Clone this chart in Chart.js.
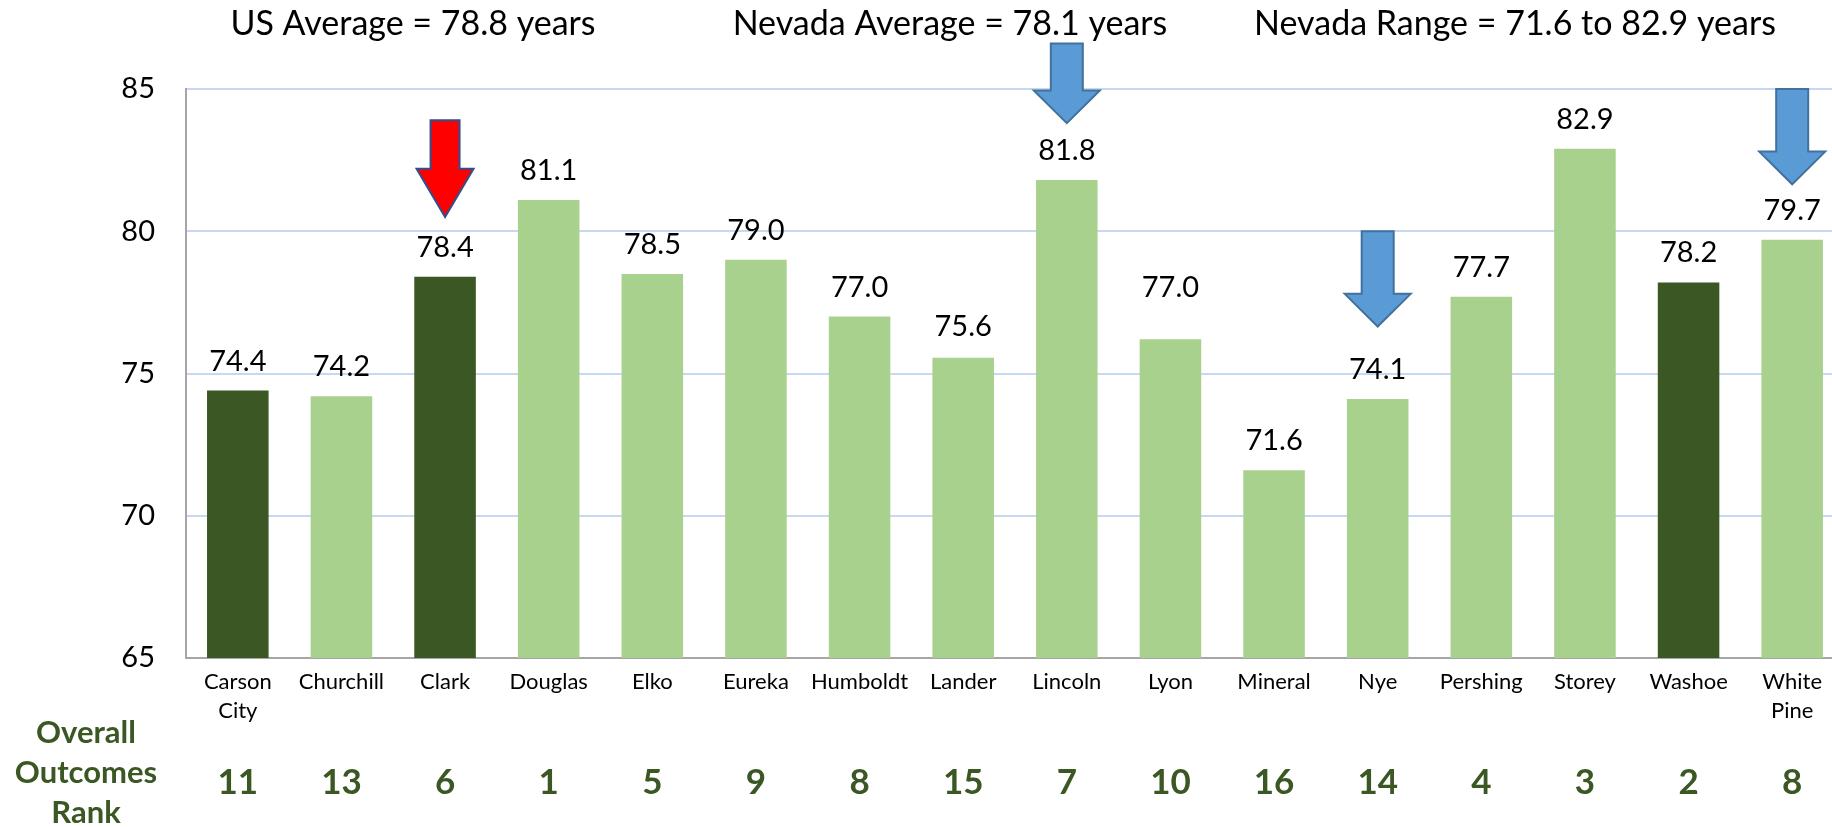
<!DOCTYPE html>
<html>
<head>
<meta charset="utf-8">
<script src="https://cdn.jsdelivr.net/npm/chart.js@4.4.0/dist/chart.umd.min.js"></script>
<style>
  html, body { margin: 0; padding: 0; background: #fff; overflow: hidden; }
  #wrap { width: 1844px; height: 827px; position: relative; }
</style>
</head>
<body>
<div id="wrap"><canvas id="myChart"></canvas></div>
<script>
// county life expectancy, Nevada
const counties = ['Carson City', 'Churchill', 'Clark', 'Douglas', 'Elko', 'Eureka', 'Humboldt', 'Lander',
    'Lincoln', 'Lyon', 'Mineral', 'Nye', 'Pershing', 'Storey', 'Washoe', 'White Pine'];
const lifeExp = [74.4, 74.2, 78.4, 81.1, 78.5, 79.0, 77.0, 75.55, 81.8, 76.2, 71.6, 74.1, 77.7, 82.9, 78.2, 79.7];
// the number printed above each bar (Lyon's label does not match its bar)
const shownLabels = ['74.4', '74.2', '78.4', '81.1', '78.5', '79.0', '77.0', '75.6', '81.8', '77.0', '71.6', '74.1', '77.7', '82.9', '78.2', '79.7'];
const ranks = [11, 13, 6, 1, 5, 9, 8, 15, 7, 10, 16, 14, 4, 3, 2, 8];
const urbanCounties = ['Carson City', 'Clark', 'Washoe'];
const yTicks = [65, 70, 75, 80, 85];
const headlines = ['US Average = 78.8 years', 'Nevada Average = 78.1 years', 'Nevada Range = 71.6 to 82.9 years'];
const rankTitle = ['Overall', 'Outcomes', 'Rank'];
// arrows: county index, shaft top, head start, tip (in years)
const arrows = [
    { i: 2, top: 83.9, neck: 82.2, tip: 80.5, red: true },
    { i: 8, top: 86.6, neck: 84.95, tip: 83.8 },
    { i: 11, top: 80.0, neck: 77.8, tip: 76.65 },
    { i: 15, top: 85.0, neck: 82.8, tip: 81.65 }
];

const FONT = 'Lato, "Open Sans", sans-serif';
const darkGreen = '#3a5724';
const lightGreen = '#a9d18e';

const barLabels = {
    id: 'barLabels',
    afterDatasetsDraw(chart) {
        const ctx = chart.ctx;
        const x = chart.scales.x, y = chart.scales.y;
        ctx.save();
        ctx.font = '29px ' + FONT;
        ctx.fillStyle = '#000';
        ctx.textAlign = 'center';
        ctx.textBaseline = 'alphabetic';
        shownLabels.forEach((t, i) => {
            ctx.fillText(t, x.getPixelForValue(i), y.getPixelForValue(parseFloat(t)) - 20);
        });
        ctx.restore();
    }
};

const extras = {
    id: 'extras',
    afterDraw(chart) {
        const ctx = chart.ctx;
        const x = chart.scales.x, y = chart.scales.y;
        ctx.save();
        // headlines
        ctx.font = '34px ' + FONT;
        ctx.fillStyle = '#000';
        ctx.textAlign = 'center';
        ctx.textBaseline = 'alphabetic';
        const hx = [413, 950, 1515];
        headlines.forEach((t, k) => ctx.fillText(t, hx[k], 35));

        // arrows
        arrows.forEach((a) => {
            const cx = x.getPixelForValue(a.i);
            const sw = a.red ? 29 : 32, hw = a.red ? 57 : 66;
            const yt = y.getPixelForValue(a.top), yn = y.getPixelForValue(a.neck), yp = y.getPixelForValue(a.tip);
            ctx.beginPath();
            ctx.moveTo(cx - sw / 2, yt);
            ctx.lineTo(cx - sw / 2, yn);
            ctx.lineTo(cx - hw / 2, yn);
            ctx.lineTo(cx, yp);
            ctx.lineTo(cx + hw / 2, yn);
            ctx.lineTo(cx + sw / 2, yn);
            ctx.lineTo(cx + sw / 2, yt);
            ctx.closePath();
            ctx.fillStyle = a.red ? '#ff0000' : '#5b9bd5';
            ctx.fill();
            ctx.lineWidth = 2;
            ctx.strokeStyle = a.red ? '#2f4f8f' : '#41719c';
            ctx.stroke();
        });

        // rank row
        ctx.fillStyle = darkGreen;
        ctx.font = 'bold 31px ' + FONT;
        ctx.textBaseline = 'middle';
        rankTitle.forEach((t, k) => ctx.fillText(t, 86, 733 + k * 40));
        ctx.font = 'bold 35px ' + FONT;
        ranks.forEach((r, i) => ctx.fillText(String(r), x.getPixelForValue(i), 783));
        ctx.restore();
    }
};

const ctx = document.getElementById('myChart').getContext('2d');
const myChart = new Chart(ctx, {
    type: 'bar',
    data: {
        labels: counties.map((c) => c.split(' ')),
        datasets: [{
            data: lifeExp,
            backgroundColor: counties.map((c) => urbanCounties.includes(c) ? darkGreen : lightGreen),
            borderWidth: 0,
            barPercentage: 0.594,
            categoryPercentage: 1
        }]
    },
    options: {
        responsive: true,
        maintainAspectRatio: false,
        animation: false,
        layout: { padding: { top: 89, left: 0, right: 0, bottom: 0 } },
        plugins: { legend: { display: false }, tooltip: { enabled: false } },
        scales: {
            x: {
                grid: { display: false, drawTicks: false },
                border: { display: true, color: '#a6a6a6', width: 2 },
                ticks: { color: '#000', font: { family: FONT, size: 22, lineHeight: 1.3 }, padding: 10, maxRotation: 0, autoSkip: false },
                afterFit: (s) => { s.height = 169; }
            },
            y: {
                min: yTicks[0],
                max: yTicks[yTicks.length - 1],
                afterBuildTicks: (s) => { s.ticks = yTicks.map((v) => ({ value: v })); },
                grid: { color: '#c6d9f1', lineWidth: 2, drawTicks: false },
                border: { display: true, color: '#a6a6a6', width: 2 },
                ticks: { color: '#000', font: { family: FONT, size: 29 }, padding: 31 },
                afterFit: (s) => { s.width = 186; }
            }
        }
    },
    plugins: [barLabels, extras]
});
</script>
</body>
</html>
